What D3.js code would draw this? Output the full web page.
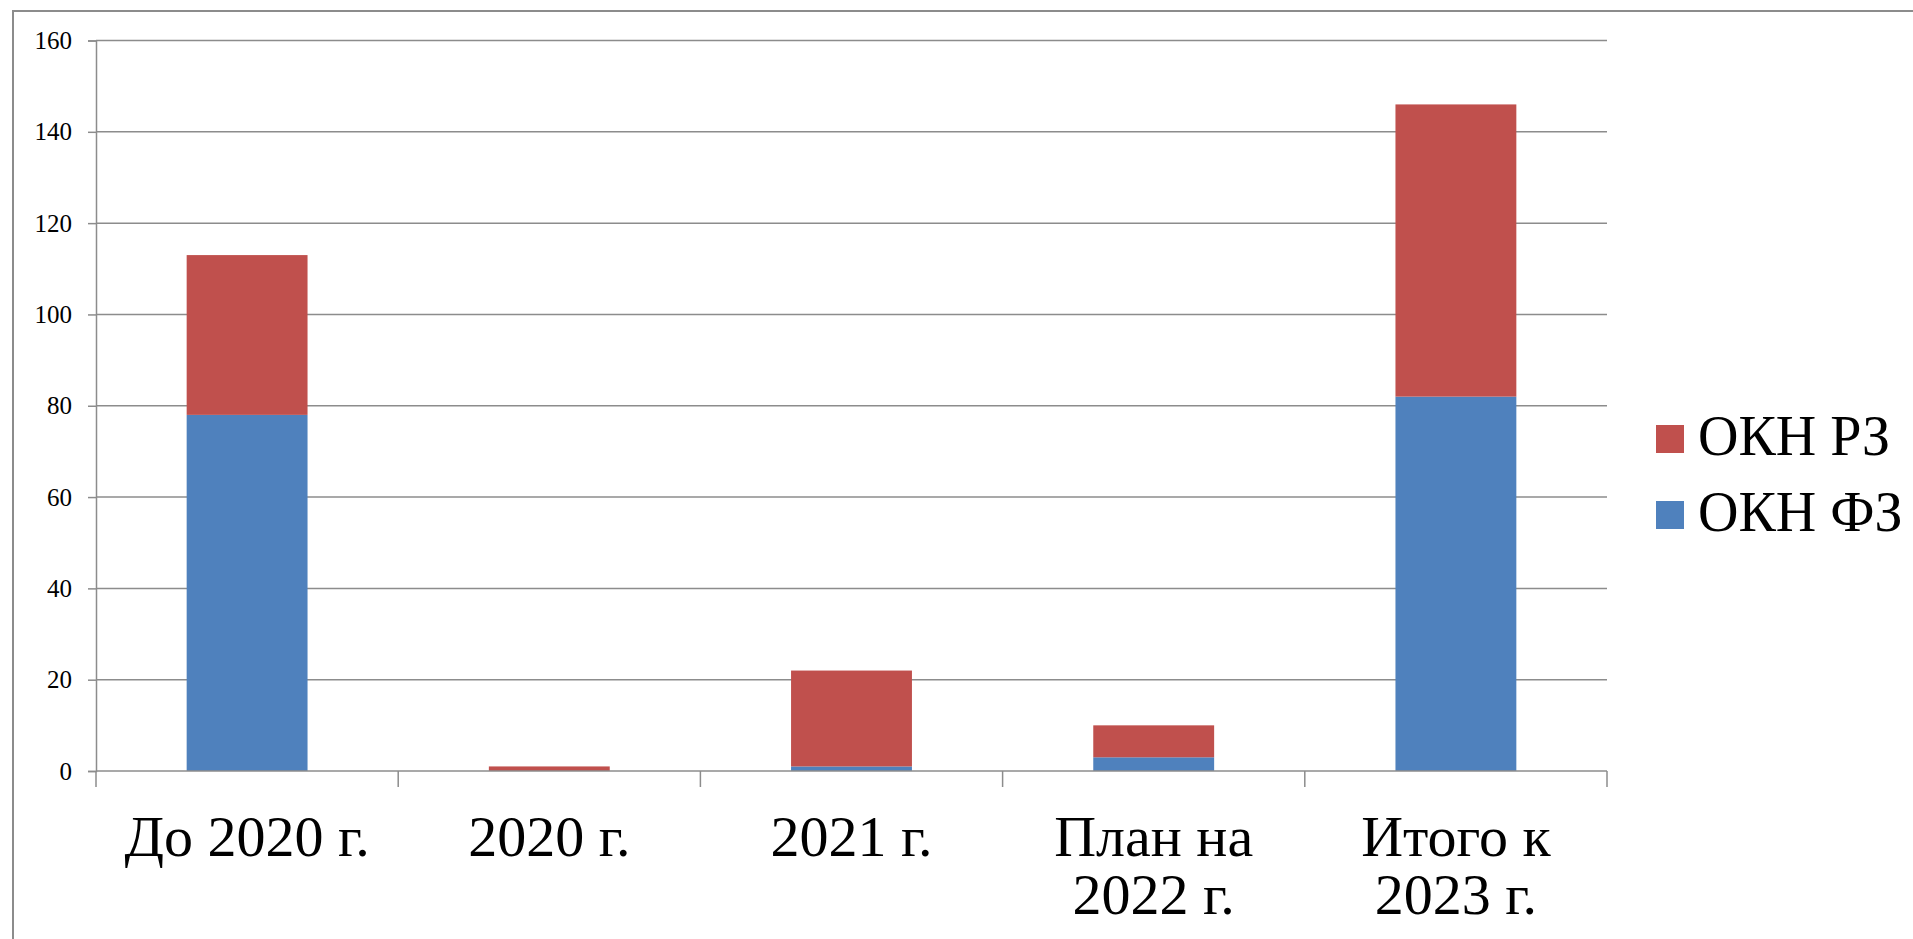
<!DOCTYPE html>
<html>
<head>
<meta charset="utf-8">
<script src="https://cdn.jsdelivr.net/npm/d3@7"></script>
<style>
  html, body { margin: 0; padding: 0; background: #fff; }
  svg { display: block; }
  text { font-family: "Liberation Serif", "DejaVu Serif", serif; fill: #000; }
</style>
</head>
<body>
<svg id="chart"></svg>
<script>
// Chart data
const categories = [["До 2020 г."], ["2020 г."], ["2021 г."], ["План на", "2022 г."], ["Итого к", "2023 г."]];
const seriesNames = ["ОКН ФЗ", "ОКН РЗ"];
const okhFz = [78, 0, 1, 3, 82];
const okhRz = [35, 1, 21, 7, 64];
const yTicks = [0, 20, 40, 60, 80, 100, 120, 140, 160];
const seriesColors = ["#4F81BD", "#C0504D"];

const width = 1913;
const height = 939;
const margin = { left: 96, right: 1607, top: 40.5, bottom: 771 };

const svg = d3.select("#chart").attr("width", width).attr("height", height);

// outer chart frame (only left and top are visible in the window)
svg.append("path")
    .attr("d", `M13,${height} L13,11 L${width},11`)
    .attr("fill", "none")
    .attr("stroke", "#8c8c8c")
    .attr("stroke-width", 2);

const x = d3.scaleBand()
    .domain(d3.range(categories.length))
    .range([margin.left, margin.right])
    .paddingInner(0)
    .paddingOuter(0);

const y = d3.scaleLinear().domain([0, 160]).range([margin.bottom, margin.top]);

// gridlines
svg.append("g").attr("class", "grid")
    .selectAll("line")
    .data(yTicks.filter(d => d > 0))
    .join("line")
    .attr("x1", margin.left).attr("x2", margin.right)
    .attr("y1", d => y(d)).attr("y2", d => y(d))
    .attr("stroke", "#8c8c8c")
    .attr("stroke-width", 1.5);

// stacked bars
const rows = categories.map((c, i) => ({ i, fz: okhFz[i], rz: okhRz[i] }));
const stack = d3.stack().keys(["fz", "rz"])(rows);
const barWidth = x.bandwidth() / 2.5; // gap width 150%

svg.append("g").attr("class", "bars")
    .selectAll("g")
    .data(stack)
    .join("g")
    .attr("fill", (d, k) => seriesColors[k])
    .selectAll("rect")
    .data(d => d)
    .join("rect")
    .attr("x", d => x(d.data.i) + (x.bandwidth() - barWidth) / 2)
    .attr("width", barWidth)
    .attr("y", d => y(d[1]))
    .attr("height", d => y(d[0]) - y(d[1]));

// y axis
const yAxis = svg.append("g")
    .attr("transform", `translate(${margin.left},0)`)
    .call(d3.axisLeft(y).tickValues(yTicks).tickSize(8).tickPadding(16));
yAxis.select(".domain").attr("stroke", "#8c8c8c").attr("stroke-width", 1.5);
yAxis.selectAll(".tick line").attr("stroke", "#8c8c8c").attr("stroke-width", 1.5);
yAxis.selectAll(".tick text")
    .style("font-family", "'Liberation Serif', serif")
    .style("font-size", "25px")
    .attr("fill", "#000");

// x axis line and ticks at band boundaries
svg.append("line")
    .attr("x1", margin.left).attr("x2", margin.right)
    .attr("y1", y(0)).attr("y2", y(0))
    .attr("stroke", "#8c8c8c").attr("stroke-width", 1.5);
svg.append("g").selectAll("line")
    .data(d3.range(categories.length + 1))
    .join("line")
    .attr("x1", i => margin.left + i * x.bandwidth())
    .attr("x2", i => margin.left + i * x.bandwidth())
    .attr("y1", y(0)).attr("y2", y(0) + 16)
    .attr("stroke", "#8c8c8c").attr("stroke-width", 1.5);

// category labels
const xLabels = svg.append("g").selectAll("text")
    .data(categories)
    .join("text")
    .attr("text-anchor", "middle")
    .attr("x", (d, i) => x(i) + x.bandwidth() / 2)
    .attr("y", 856)
    .style("font-size", "58px");
xLabels.selectAll("tspan")
    .data(function(d, i) { return d.map(t => ({ t, cx: x(i) + x.bandwidth() / 2 })); })
    .join("tspan")
    .attr("x", d => d.cx)
    .attr("dy", (d, j) => j === 0 ? 0 : 58)
    .text(d => d.t);

// legend (РЗ on top, ФЗ below)
const legendItems = [1, 0];
const legend = svg.append("g").selectAll("g")
    .data(legendItems)
    .join("g")
    .attr("transform", (d, j) => `translate(1656,${425 + j * 76})`);
legend.append("rect")
    .attr("width", 28).attr("height", 28)
    .attr("fill", d => seriesColors[d]);
legend.append("text")
    .attr("x", 42).attr("y", 30)
    .style("font-size", "56px")
    .text(d => seriesNames[d]);
</script>
</body>
</html>
